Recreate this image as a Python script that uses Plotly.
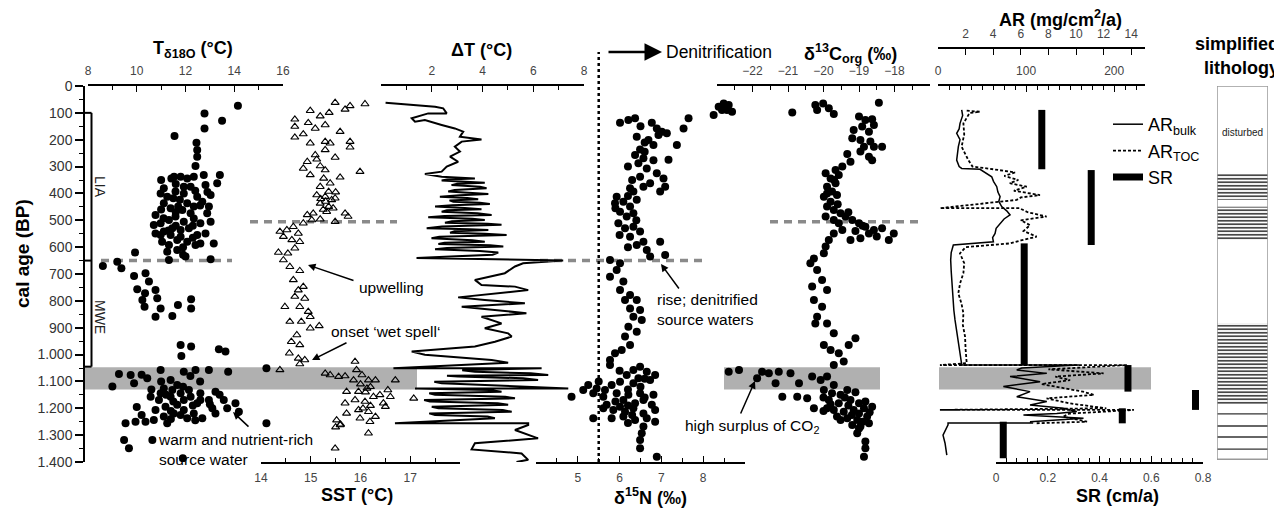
import plotly.graph_objects as go

# the page body has an 8 px margin, so the figure is shifted by that much
OFF = 8
W, H = 1282 - OFF, 508 - OFF
FONT = "Liberation Sans, Arial, sans-serif"

# ---- data: (age cal BP, value) ----
t18o = [(74, 14.15), (102, 12.78), (129, 13.5), (158, 12.78), (186, 11.55), (211, 12.45), (238, 12.48),
        (263, 12.48), (298, 12.41), (331, 13.41), (362, 13.3),
        (381, 11.11), (344, 11.42), (338, 11.8), (344, 12.07), (338, 12.34), (331, 12.75), (369, 12.82),
        (375, 11.93), (393, 11.59), (412, 11.25), (400, 10.98), (424, 11.77), (437, 12.07), (412, 12.48),
        (431, 12.69), (406, 13.03), (449, 12.96), (462, 11.87), (474, 12.21), (455, 11.39), (437, 11.11),
        (480, 10.77), (518, 10.7), (511, 10.98), (499, 11.32), (486, 11.59), (505, 11.93), (493, 12.34),
        (511, 12.61), (505, 13.03), (549, 10.77), (542, 11.11), (555, 11.39), (536, 11.8), (530, 12.14),
        (555, 12.48), (549, 12.82), (580, 11.04), (592, 11.32), (573, 11.66), (580, 12.07), (592, 12.41),
        (586, 13.16), (617, 11.25), (611, 11.66), (635, 12.0), (648, 11.32), (645, 13.03), (620, 9.93),
        (338, 11.53), (400, 11.93), (375, 12.21), (449, 11.7), (449, 12.34), (474, 12.89), (530, 11.46),
        (561, 11.8), (555, 10.98), (586, 12.61), (350, 11.0), (365, 11.6), (390, 12.4), (418, 11.5),
        (445, 12.6), (470, 11.6), (492, 11.1), (520, 12.3), (538, 11.3), (565, 12.3), (600, 11.9),
        (628, 11.9), (395, 12.9), (460, 11.0), (520, 11.6),
        (670, 8.61), (654, 9.2), (679, 9.37), (707, 9.89), (697, 10.36), (728, 10.5), (757, 10.02),
        (772, 10.34), (760, 10.77), (797, 10.23), (790, 10.84), (828, 10.98), (822, 10.32), (859, 10.77),
        (856, 11.46), (815, 11.69), (794, 12.23), (828, 12.23),
        (964, 11.8), (970, 12.23), (1005, 11.83), (980, 13.37), (989, 13.64),
        (1072, 9.27), (1076, 9.75), (1119, 9.0), (1107, 9.89), (1088, 10.43), (1057, 10.98), (1095, 11.39),
        (1064, 11.93), (1057, 12.41), (1057, 12.96), (1064, 13.75), (1051, 15.32), (1126, 11.11),
        (1113, 11.66), (1132, 12.14), (1144, 12.61), (1138, 13.23), (1169, 13.57), (1181, 14.05),
        (1213, 14.19), (1200, 13.71), (1200, 13.1), (1181, 12.48), (1169, 11.93), (1157, 11.39),
        (1169, 10.91), (1194, 11.18), (1219, 11.52), (1206, 11.93), (1219, 12.34), (1237, 12.69),
        (1231, 11.11), (1244, 10.7), (1250, 10.36), (1250, 9.95), (1256, 9.54), (1318, 9.48), (1349, 9.68),
        (1386, 11.89), (1318, 10.64), (1256, 15.32), (1144, 10.98), (1132, 11.46), (1144, 11.8),
        (1157, 12.21), (1169, 12.61), (1206, 10.77), (1187, 11.66), (1237, 12.07), (1256, 11.25),
        (1169, 12.96), (1219, 13.23), (1157, 10.57), (1075, 10.2), (1100, 11.0), (1120, 11.9),
        (1150, 11.2), (1175, 11.5), (1190, 12.3), (1210, 11.4), (1225, 11.8), (1240, 11.4), (1185, 13.0),
        (1150, 13.4), (1130, 10.6), (1195, 10.0), (1225, 10.2), (1245, 12.4), (1100, 12.6), (1080, 12.2)]

sst = [(62, 15.49), (74, 15.79), (67, 16.09), (87, 15.69), (99, 15.37), (92, 14.99), (112, 15.19),
       (124, 14.68), (151, 14.68), (137, 14.95), (158, 15.09), (145, 15.29), (170, 15.59), (179, 14.85),
       (191, 14.68), (213, 14.99), (207, 15.29), (213, 15.39), (207, 15.79), (228, 15.79), (238, 15.29),
       (266, 15.49), (257, 15.09), (282, 14.93), (307, 14.85), (331, 14.99), (298, 15.19), (273, 15.12),
       (313, 15.29), (340, 15.59), (319, 15.99), (344, 15.26), (362, 15.39), (375, 15.19), (393, 15.36),
       (406, 15.12), (412, 15.29), (424, 15.42), (437, 15.19), (449, 15.36), (418, 15.49), (468, 15.32),
       (474, 15.05), (480, 14.93), (511, 14.85), (499, 15.02), (496, 15.19), (505, 15.49), (474, 15.69),
       (486, 15.75), (395, 15.5), (430, 15.3), (455, 15.45), (460, 15.25), (420, 15.2),
       (536, 14.52), (542, 14.38), (524, 14.65), (549, 14.75), (561, 14.45), (573, 14.62), (580, 14.78),
       (604, 14.68), (623, 14.54), (620, 14.35), (648, 14.45), (673, 14.58), (688, 14.78), (722, 14.65),
       (760, 14.75), (747, 14.85), (784, 14.68), (791, 14.88), (822, 14.78), (840, 14.95), (859, 14.99),
       (822, 14.48), (877, 14.58), (877, 14.81), (902, 14.99), (893, 15.17), (927, 14.72), (952, 14.61),
       (964, 14.78), (995, 14.57), (1014, 14.75), (1020, 14.88), (1035, 14.78),
       (1057, 14.38), (1070, 15.29), (1076, 15.39), (1082, 15.56), (1080, 15.69), (1026, 15.89),
       (1057, 15.92), (1095, 15.86), (1076, 16.03), (1095, 16.16), (1095, 16.3), (1095, 16.7),
       (1126, 16.13), (1138, 15.96), (1138, 15.72), (1169, 15.89), (1175, 16.09), (1157, 16.26),
       (1150, 16.39), (1132, 16.55), (1157, 16.6), (1194, 16.5), (1206, 15.96), (1213, 16.16),
       (1231, 16.3), (1250, 16.19), (1237, 15.99), (1181, 15.69), (1219, 15.72), (1244, 15.52),
       (1262, 15.59), (1293, 16.16), (1349, 15.49), (1163, 17.07), (1181, 16.46), (1110, 16.0),
       (1120, 16.2), (1140, 16.1), (1190, 16.2), (1200, 16.05), (1260, 15.6), (1270, 15.5)]

delta_t = [(62, 0.18), (77, 2.13), (83, 2.45), (102, 2.59), (102, 1.86), (120, 1.21), (133, 1.34), (127, 1.73),
           (145, 2.39), (158, 2.91), (170, 3.24), (189, 3.11), (199, 3.96), (207, 3.18), (226, 2.91),
           (244, 3.11), (263, 2.72), (282, 3.04), (300, 2.59), (319, 2.39), (328, 1.73), (338, 2.39),
           (344, 3.7), (348, 2.6), (352, 2.39), (356, 3.5), (360, 4.09), (364, 3.0), (369, 2.78), (375, 3.9),
           (381, 4.16), (387, 2.9), (393, 2.65), (398, 3.6), (402, 4.23), (407, 3.1), (412, 2.32), (417, 3.4),
           (422, 3.83), (426, 2.7), (431, 2.85), (435, 3.9), (439, 4.29), (444, 2.8), (449, 2.13), (454, 3.3),
           (459, 3.96), (463, 2.6), (468, 2.39), (474, 3.8), (480, 4.36), (484, 2.5), (489, 1.86), (494, 3.6),
           (499, 4.09), (504, 2.8), (509, 2.52), (513, 4.2), (517, 4.75), (523, 2.4), (530, 1.8), (533, 3.5),
           (536, 4.23), (541, 2.9), (546, 2.72), (550, 4.1), (555, 4.95), (561, 2.3), (567, 1.99), (574, 3.6),
           (580, 4.09), (584, 2.5), (588, 2.26), (593, 4.3), (598, 4.82), (603, 2.6), (608, 2.13), (614, 3.9),
           (620, 4.62), (628, 4.4), (640, 1.4), (645, 4.5), (650, 7.18), (660, 5.6), (672, 5.28),
           (697, 4.88), (710, 4.23), (722, 3.7), (741, 3.96), (747, 5.28), (760, 5.8), (772, 4.62),
           (787, 3.04), (797, 4.09), (809, 5.67), (822, 3.18), (834, 4.36), (846, 5.73), (859, 3.96),
           (884, 4.75), (902, 4.09), (921, 5.01), (933, 5.15), (952, 4.49), (970, 3.7), (977, 2.78),
           (989, 1.21), (1001, 1.73), (1010, 3.04), (1020, 4.36), (1030, 5.01), (1051, 0.49), (1051, 6.33),
           (1058, 3.2), (1064, 3.7), (1070, 5.9), (1076, 6.59), (1079, 2.6), (1082, 3.04), (1088, 5.6),
           (1095, 6.19), (1101, 2.1), (1107, 2.39), (1116, 5.0), (1126, 7.38), (1126, 1.34), (1132, 4.3),
           (1138, 4.75), (1144, 1.9), (1150, 2.13), (1157, 4.9), (1163, 5.28), (1169, 1.7), (1175, 1.93),
           (1181, 4.6), (1187, 5.01), (1194, 2.0), (1200, 2.26), (1206, 4.8), (1213, 5.15), (1219, 1.9),
           (1225, 2.13), (1231, 4.2), (1237, 4.49), (1256, 0.55), (1256, 5.8), (1262, 5.8), (1281, 5.28),
           (1312, 6.19), (1330, 3.7), (1353, 3.57), (1368, 5.54), (1392, 5.8), (1400, 5.34)]

d15n = [(108, 8.25), (77, 8.37), (65, 8.49), (89, 8.57), (96, 8.69), (89, 8.45), (71, 8.61),
        (120, 7.65), (158, 7.53), (220, 7.37), (275, 7.17),
        (137, 6.01), (127, 6.21), (120, 6.37), (137, 6.77), (158, 6.89), (170, 7.01), (176, 7.13),
        (182, 6.93), (189, 6.41), (201, 6.69), (220, 6.81), (236, 6.49), (257, 6.37), (269, 6.57),
        (276, 6.81), (288, 6.45), (307, 6.65), (325, 6.89), (344, 7.05), (375, 7.09), (393, 6.97),
        (362, 6.73), (338, 6.49), (375, 6.57), (393, 6.33), (381, 6.25), (412, 5.93), (437, 5.89),
        (431, 6.09), (449, 6.25), (424, 6.41), (468, 6.01), (486, 6.17), (474, 6.33), (511, 5.97),
        (530, 6.13), (524, 6.33), (542, 6.49), (561, 6.25), (580, 6.57), (592, 6.41), (611, 6.65),
        (580, 6.97), (629, 7.09), (635, 6.73), (648, 5.77), (660, 6.01), (685, 5.93), (710, 5.77),
        (728, 6.09), (760, 6.01), (778, 6.25), (797, 6.13), (797, 6.41), (828, 6.25), (834, 6.49),
        (859, 6.33), (871, 6.53), (896, 6.21), (915, 6.41), (933, 6.13), (964, 6.25), (983, 6.05),
        (995, 5.89), (1020, 5.77), (1039, 5.77), (150, 6.5), (210, 6.6), (245, 6.6), (300, 6.2),
        (350, 6.3), (410, 6.2), (455, 5.9), (500, 6.4), (555, 6.0), (600, 6.2),
        (1057, 6.33), (1045, 6.49), (1064, 6.65), (1076, 6.85), (1076, 6.17), (1088, 6.45), (1095, 6.73),
        (1101, 6.01), (1107, 6.33), (1113, 5.81), (1113, 5.25), (1126, 5.45), (1132, 5.65), (1132, 5.13),
        (1144, 5.37), (1157, 4.85), (1157, 5.61), (1144, 5.93), (1150, 6.21), (1144, 6.49), (1150, 6.81),
        (1169, 6.09), (1181, 6.37), (1169, 6.57), (1187, 6.77), (1200, 5.61), (1206, 5.85), (1213, 6.13),
        (1200, 6.33), (1219, 6.57), (1206, 6.85), (1237, 5.37), (1237, 5.81), (1231, 6.09), (1244, 6.37),
        (1237, 6.65), (1250, 6.85), (1268, 6.57), (1293, 6.53), (1318, 6.49), (1349, 6.49), (1380, 6.89),
        (1187, 5.69), (1194, 6.01), (1060, 6.0), (1090, 6.6), (1120, 6.5), (1160, 6.6), (1175, 5.9),
        (1190, 6.2), (1225, 6.3), (1255, 6.2), (1130, 6.2), (1100, 5.5)]

d13c = [(99, -20.88), (71, -20.23), (65, -20.01), (89, -20.18), (83, -19.85), (104, -19.71), (62, -18.44),
        (114, -19.0), (127, -18.82), (124, -18.63), (164, -19.15), (151, -18.91), (170, -18.72),
        (145, -18.58), (195, -19.19), (201, -18.96), (207, -18.68), (226, -18.86), (226, -18.58),
        (226, -18.35), (244, -18.96), (263, -18.72), (276, -18.63), (253, -19.33), (282, -19.24),
        (300, -19.47), (313, -19.66), (325, -19.94), (344, -19.8), (331, -19.57), (362, -19.66),
        (375, -19.9), (393, -19.76), (406, -19.62), (412, -19.99), (431, -19.8), (449, -19.9),
        (462, -19.71), (474, -19.52), (486, -19.38), (499, -19.19), (511, -19.0), (524, -18.82),
        (536, -18.58), (530, -18.35), (549, -18.02), (573, -18.16), (549, -18.72), (567, -18.96),
        (573, -19.24), (499, -19.71), (486, -19.94), (511, -19.57), (536, -19.47),
        (350, -19.7), (400, -19.9), (440, -19.6), (470, -19.3), (520, -18.9), (540, -19.1), (560, -18.5),
        (549, -19.71), (573, -19.85), (598, -19.94), (623, -19.99), (642, -20.27), (660, -20.37),
        (685, -20.18), (722, -20.04), (760, -19.9), (747, -20.32), (797, -20.27), (822, -20.04),
        (859, -20.18), (884, -20.23), (884, -19.9), (921, -19.71), (939, -19.1), (964, -19.29),
        (964, -19.99), (983, -19.8), (995, -19.57), (1026, -19.43), (1039, -19.71),
        (1064, -22.67), (1057, -22.38), (1088, -21.87), (1064, -21.73), (1070, -21.54), (1064, -21.26),
        (1107, -21.35), (1070, -20.93), (1107, -20.69), (1082, -20.32), (1095, -20.08), (1082, -19.9),
        (1113, -19.71), (1157, -21.16), (1157, -20.74), (1163, -20.46), (1200, -20.27),
        (1132, -19.99), (1144, -19.76), (1150, -19.52), (1132, -19.33), (1169, -19.85), (1181, -19.57),
        (1169, -19.24), (1181, -19.0), (1175, -18.82), (1206, -19.71), (1213, -19.43), (1206, -19.15),
        (1200, -18.86), (1194, -18.63), (1200, -19.9), (1231, -19.62), (1237, -19.33), (1244, -19.05),
        (1231, -18.77), (1262, -19.19), (1268, -18.96), (1256, -18.72), (1293, -19.05), (1324, -18.82),
        (1349, -18.82), (1380, -18.86), (1244, -19.52), (1219, -19.0), (1140, -19.1), (1160, -19.4),
        (1190, -19.3), (1215, -18.7), (1225, -19.2), (1250, -18.9), (1275, -19.0), (1185, -19.8),
        (1210, -20.0), (1160, -20.0)]

# accumulation rates
ar_bulk = [(89, 26.9), (110, 28), (139, 25), (160, 24), (176, 21.2), (200, 25), (226, 23.1), (250, 22),
           (276, 21.2), (300, 24), (307, 26.9), (310, 47.7), (325, 55), (338, 61), (355, 63), (375, 66.7),
           (395, 68), (412, 70.5), (430, 69), (449, 72.3), (465, 78), (480, 81.8), (495, 75), (511, 70.5),
           (530, 66), (549, 64.8), (565, 62), (580, 62.9), (592, 17.4), (620, 15), (648, 14.4), (690, 15),
           (722, 15.5), (760, 16), (797, 17.4), (835, 18), (871, 19.3), (910, 21), (946, 23.1), (990, 25),
           (1033, 26.9), (1039, 27), (1039, 160), (1050, 95), (1057, 89.4), (1070, 123.5), (1082, 81.8),
           (1101, 115.9), (1119, 74.2), (1138, 104.5), (1157, 89.4), (1175, 123.5), (1188, 104.5),
           (1200, 142.4), (1212, 157.6), (1219, 134.8), (1225, 97), (1237, 165.2), (1250, 104.5),
           (1255, 108), (1255, 11.4), (1262, 11.4), (1300, 5.7), (1330, 8), (1374, 10)]
ar_toc = [(92, 2.08), (96, 3.04), (100, 2.3), (139, 1.84), (180, 1.9), (226, 1.71), (276, 2.2), (300, 2.5),
          (310, 4.01), (322, 5.58), (335, 4.8), (350, 5.82), (362, 5.2), (375, 6.43), (390, 5.5), (406, 7.39),
          (415, 6.0), (424, 5.7), (455, 0.14), (455, 5.9), (470, 6.5), (486, 7.87), (500, 6.0), (518, 6.67),
          (540, 6.2), (561, 7.15), (575, 6.0), (586, 5.22), (600, 2.0), (623, 1.59), (660, 1.9), (697, 1.84),
          (735, 1.6), (772, 1.47), (810, 1.7), (846, 1.84), (890, 1.8), (933, 1.96), (980, 2.0), (1032, 2.08),
          (1039, 0.14), (1039, 13.7), (1055, 8), (1070, 12.0), (1082, 8.5), (1095, 9.57), (1110, 7.5),
          (1138, 10.5), (1150, 11.3), (1163, 7.87), (1182, 9.57), (1200, 12.2), (1206, 0.14), (1206, 14.2),
          (1220, 9.5), (1231, 9.08), (1250, 10.8), (1256, 7)]

# sedimentation rate segments
sr_rate = [0.177, 0.368, 0.109, 0.51, 0.771, 0.488, 0.028]
sr_top = [89, 313, 586, 1039, 1132, 1200, 1250]
sr_base = [310, 592, 1039, 1138, 1206, 1256, 1386]

warm_band = (1047, 1130)
lia_top, lia_mwe, mwe_base = 100, 650, 1045
upwelling_age = 505
denitrification_limit = 5.5

litho_laminated = [(324, 424), (450, 573), (882, 1188)]
litho_layers = [1221, 1266, 1307, 1352]
litho_base = 1390
disturbed_age = 172

age_ticks = list(range(0, 1401, 100))


def px(x):
    # screen pixel -> paper x
    return (x - OFF) / W


def py(y):
    # screen pixel -> paper y
    return 1 - (y - OFF) / H


def split(pairs):
    return [p[0] for p in pairs], [p[1] for p in pairs]


def steps(a, b, s):
    n = int(round((b - a) / s))
    return [round(a + i * s, 4) for i in range(n + 1)]


def age_label(v):
    return f"{v // 1000}.{v % 1000:03d}" if v >= 1000 else str(v)


fig = go.Figure()

a, v = split(t18o)
fig.add_trace(go.Scatter(x=v, y=a, xaxis="x", yaxis="y", mode="markers",
                         marker=dict(color="black", size=8), showlegend=False))
a, v = split(sst)
fig.add_trace(go.Scatter(x=v, y=a, xaxis="x2", yaxis="y", mode="markers",
                         marker=dict(symbol="triangle-up-open", color="black", size=7, line=dict(width=1.1)),
                         showlegend=False))
a, v = split(delta_t)
fig.add_trace(go.Scatter(x=v, y=a, xaxis="x3", yaxis="y", mode="lines",
                         line=dict(color="black", width=2), showlegend=False))
a, v = split(d15n)
fig.add_trace(go.Scatter(x=v, y=a, xaxis="x4", yaxis="y", mode="markers",
                         marker=dict(color="black", size=8), showlegend=False))
a, v = split(d13c)
fig.add_trace(go.Scatter(x=v, y=a, xaxis="x5", yaxis="y", mode="markers",
                         marker=dict(color="black", size=8), showlegend=False))
a, v = split(ar_bulk)
fig.add_trace(go.Scatter(x=v, y=a, xaxis="x6", yaxis="y", mode="lines", name="AR<sub>bulk</sub>",
                         line=dict(color="black", width=1.5)))
a, v = split(ar_toc)
fig.add_trace(go.Scatter(x=v, y=a, xaxis="x7", yaxis="y", mode="lines", name="AR<sub>TOC</sub>",
                         line=dict(color="black", width=1.8, dash="3px,2px")))

sr_x, sr_y = [], []
for r, t, b in zip(sr_rate, sr_top, sr_base):
    sr_x += [r, r, None]
    sr_y += [t, b, None]
fig.add_trace(go.Scatter(x=sr_x, y=sr_y, xaxis="x8", yaxis="y", mode="lines", name="SR",
                         line=dict(color="black", width=7)))

# lithology column
for top, base in litho_laminated:
    fig.add_trace(go.Scatter(x=[0, 1, 1, 0, 0], y=[top, top, base, base, top], xaxis="x9", yaxis="y",
                             mode="lines", fill="toself", fillcolor="white", line=dict(width=0),
                             fillpattern=dict(shape="-", size=3.5, solidity=0.45, fgcolor="#333",
                                              bgcolor="white"),
                             showlegend=False, hoverinfo="skip"))
lx, ly = [], []
for d in litho_layers:
    lx += [0, 1, None]
    ly += [d, d, None]
fig.add_trace(go.Scatter(x=lx, y=ly, xaxis="x9", yaxis="y", mode="lines",
                         line=dict(color="#333", width=1.3), showlegend=False))

tickfont = dict(family=FONT, size=12, color="#444")


def xaxis(left, right, rng, side, labels, minor, anchor="y", position=None):
    ax = dict(domain=[px(left), px(right)], range=rng, side=side, anchor=anchor,
              showline=True, linecolor="black", linewidth=1.5,
              ticks="inside", ticklen=6, tickwidth=1.3, tickcolor="black",
              tickmode="array", tickvals=labels,
              minor=dict(tickmode="array", tickvals=minor, ticks="inside", ticklen=4,
                         tickwidth=1.2, tickcolor="black"),
              showgrid=False, zeroline=False, tickfont=tickfont, ticklabelstandoff=4)
    if position is not None:
        ax["position"] = position
    return ax


fig.update_layout(
    width=W, height=H, template="none",
    margin=dict(l=0, r=0, t=0, b=0),
    paper_bgcolor="white", plot_bgcolor="rgba(0,0,0,0)",
    font=dict(family=FONT, color="black"),
    yaxis=dict(domain=[py(462), py(86)], range=[1400, 0], anchor="free", position=px(84), side="left",
               showline=True, linecolor="black", linewidth=1.5,
               ticks="outside", ticklen=8, tickwidth=1.5, tickcolor="black",
               tickmode="array", tickvals=age_ticks, ticktext=[age_label(t) for t in age_ticks],
               minor=dict(tickmode="array", tickvals=steps(50, 1350, 100), ticks="outside", ticklen=4,
                          tickwidth=1.3, tickcolor="black"),
               tickfont=dict(family=FONT, size=14, color="#333"),
               showgrid=False, zeroline=False),
    xaxis=xaxis(88, 283, [8, 16], "top", [8, 10, 12, 14, 16], [9, 11, 13, 15]),
    xaxis2=xaxis(261, 460, [14, 18], "bottom", [14, 15, 16, 17], steps(14.5, 17.5, 1)),
    xaxis3=xaxis(381, 584, [0, 8], "top", [2, 4, 6, 8], [1, 3, 5, 7]),
    xaxis4=xaxis(536, 745, [4, 9], "bottom", [5, 6, 7, 8], steps(4.5, 8.5, 1)),
    xaxis5=xaxis(717, 930, [-23, -17], "top", [-22, -21, -20, -19, -18], steps(-22.5, -17.5, 1)),
    xaxis6=xaxis(938, 1145, [0, 235], "top", [0, 100, 200], steps(12.5, 225, 12.5)),
    xaxis7=xaxis(938, 1145, [0, 15], "top", [2, 4, 6, 8, 10, 12, 14], [], anchor="free",
                  position=py(48)),
    xaxis8=xaxis(996, 1203, [0, 0.8], "bottom", [0, 0.2, 0.4, 0.6, 0.8], steps(0.04, 0.76, 0.04)),
    xaxis9=dict(domain=[px(1217), px(1268)], range=[0, 1], anchor="y", visible=False),
    legend=dict(x=px(1108), y=py(106), xanchor="left", yanchor="top", bgcolor="rgba(0,0,0,0)",
                font=dict(family=FONT, size=18, color="black"), itemwidth=30, tracegroupgap=0),
)

shapes = []
# grey band (warm, nutrient-rich interval)
for l, r in [(84, 417), (724, 880), (939, 1151)]:
    shapes.append(dict(type="rect", xref="paper", yref="y", x0=px(l), x1=px(r),
                       y0=warm_band[0], y1=warm_band[1], fillcolor="#b0b0b0",
                       line=dict(width=0), layer="below"))
# grey dashed boundaries
for l, r, age in [(101, 232, lia_mwe), (250, 397, upwelling_age), (540, 703, lia_mwe), (770, 920, upwelling_age)]:
    shapes.append(dict(type="line", xref="paper", yref="y", x0=px(l), x1=px(r), y0=age, y1=age,
                       line=dict(color="#8a8a8a", width=3.5, dash="8px,6px"), layer="below"))
# LIA / MWE bracket
for age in [lia_top, lia_mwe, mwe_base]:
    shapes.append(dict(type="line", xref="paper", yref="y", x0=px(84), x1=px(91.5), y0=age, y1=age,
                       line=dict(color="black", width=2)))
shapes.append(dict(type="line", xref="paper", yref="y", x0=px(91.5), x1=px(91.5), y0=lia_top, y1=mwe_base,
                   line=dict(color="black", width=2)))
# denitrification threshold
shapes.append(dict(type="line", xref="x4", yref="paper", x0=denitrification_limit, x1=denitrification_limit,
                   y0=py(462), y1=py(52), line=dict(color="black", width=2.5, dash="dot"), layer="below"))
# lithology frame
shapes.append(dict(type="rect", xref="x9", yref="y", x0=0, x1=1, y0=0, y1=litho_base,
                   line=dict(color="#999", width=1.5)))
fig.update_layout(shapes=shapes)

title_font = dict(family=FONT, size=18, color="black")
ann_font = dict(family=FONT, size=15.5, color="black")
ann = [
    dict(x=px(193), y=py(50), text="<b>T<sub>δ18O</sub> (°C)</b>", font=title_font),
    dict(x=px(357), y=py(495), text="<b>SST (°C)</b>", font=title_font),
    dict(x=px(481), y=py(50), text="<b>ΔT (°C)</b>", font=title_font),
    dict(x=px(650), y=py(496), text="<b>δ<sup>15</sup>N (‰)</b>", font=title_font),
    dict(x=px(850), y=py(54), text="<b>δ<sup>13</sup>C<sub>org</sub> (‰)</b>", font=title_font),
    dict(x=px(1060), y=py(18), text="<b>AR (mg/cm<sup>2</sup>/a)</b>", font=title_font),
    dict(x=px(1117), y=py(496), text="<b>SR (cm/a)</b>", font=title_font),
    dict(x=px(1281), y=py(44), text="<b>simplified</b>", font=title_font, xanchor="right"),
    dict(x=px(1281), y=py(68), text="<b>lithology</b>", font=title_font, xanchor="right"),
    dict(x=px(22), y=py(254), text="<b>cal age (BP)</b>", textangle=-90,
         font=dict(family=FONT, size=19, color="black")),
    dict(x=px(100), y=376, yref="y", text="LIA", textangle=90, font=dict(family=FONT, size=14, color="#222")),
    dict(x=px(100), y=860, yref="y", text="MWE", textangle=90, font=dict(family=FONT, size=14, color="#222")),
    dict(x=0.5, y=disturbed_age, xref="x9", yref="y", text="disturbed",
         font=dict(family=FONT, size=10, color="#222")),
    dict(x=px(664), y=py(52), text="Denitrification", xanchor="left", font=dict(family=FONT, size=17.5)),
    dict(x=px(357), y=py(287), text="upwelling", xanchor="left", font=ann_font),
    dict(x=px(329), y=py(331), text="onset ‘wet spell‘", xanchor="left", font=ann_font),
    dict(x=px(156), y=py(449), text="warm and nutrient-rich<br>source water", xanchor="left",
         align="left", font=ann_font),
    dict(x=px(655), y=py(309), text="rise; denitrified<br>source waters", xanchor="left", align="left",
         font=ann_font),
    dict(x=px(683), y=py(426), text="high surplus of CO<sub>2</sub>", xanchor="left", font=ann_font),
]
for a_ in ann:
    a_.setdefault("xref", "paper")
    a_.setdefault("yref", "paper")
    a_.setdefault("xanchor", "center")
    a_.setdefault("yanchor", "middle")
    a_["showarrow"] = False
# arrows (tip, tail offset in px)
arrows = [(662, 52, -55, 0, 2.5, 1.4), (308, 265, 47, 16, 1.5, 1.0), (312, 360, 36, -18, 1.5, 1.0),
          (233, 412, 17, 16, 1.5, 1.0), (661, 264, 19, 26, 1.5, 1.0), (755, 381, -15, 34, 1.5, 1.0)]
for x, y, ax, ay, w, s in arrows:
    ann.append(dict(x=px(x), y=py(y), xref="paper", yref="paper", text="", showarrow=True,
                    ax=ax, ay=ay, arrowhead=2, arrowwidth=w, arrowsize=s, arrowcolor="black"))
fig.update_layout(annotations=ann)

fig.write_html("out.html")
